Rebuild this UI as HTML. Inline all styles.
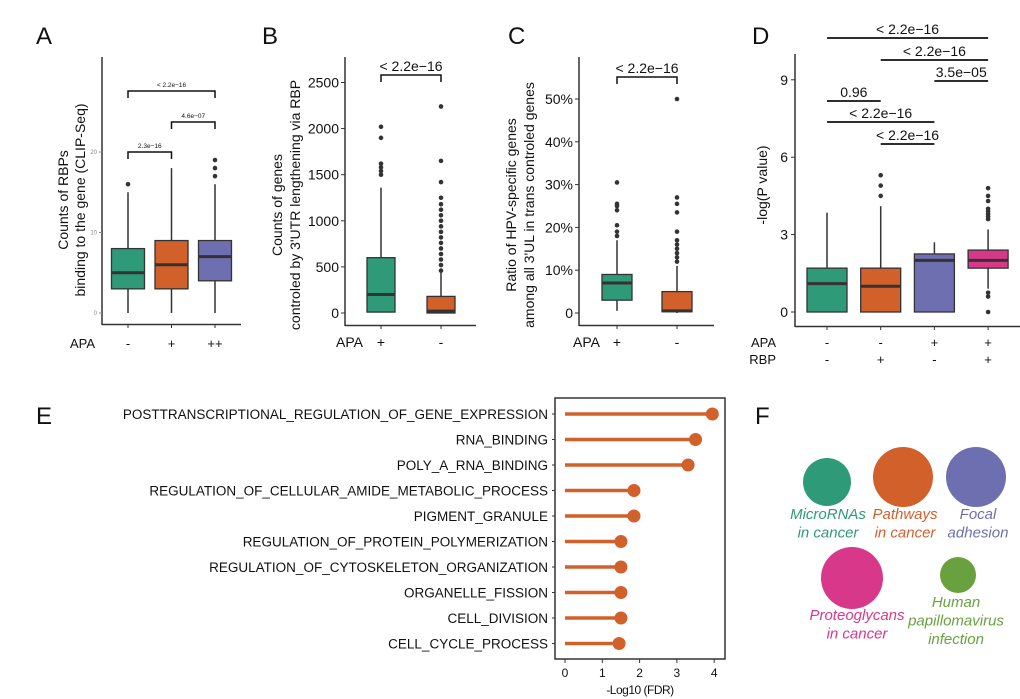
<!DOCTYPE html>
<html><head><meta charset="utf-8"><style>
body{margin:0;background:#fff;}
svg{display:block;font-family:"Liberation Sans",sans-serif;}
</style></head><body>
<svg id="fig" width="1020" height="699" viewBox="0 0 1020 699" xmlns="http://www.w3.org/2000/svg"></svg>
<script>
const NS="http://www.w3.org/2000/svg";
const svg=document.getElementById('fig');
const GREEN="#2e9a78",ORANGE="#d2602a",PURPLE="#6e6fb0",PINK="#d8388a",LGREEN="#6aa13f",DK="#333";

// ---- data ----
const aCats=["-","+","++"];
const aStats=[[0,3,5,8,15],[0,3,6,9,18],[0,4,7,9,16]];
const aOut=[[16],[],[17,18,19]];
const bCats=["+","-"];
const bStats=[[10,10,200,600,1360],[0,0,20,180,440]];
const bOut=[[1500,1540,1580,1620,1900,2020],[460,520,580,640,700,760,820,880,940,1000,1060,1120,1180,1250,1420,1650,2240]];
const cCats=["+","-"];
const cStats=[[0.5,3,7,9,17],[0,0.3,0.5,5,11]];
const cOut=[[18,19,20.5,24,25,25.5,30.5],[12,13,14,15,16,17,19,23.5,25.5,27,50]];
const dApa=["-","-","+","+"];
const dRbp=["-","+","-","+"];
const dStats=[[0,0,1.1,1.7,3.85],[0,0,1.0,1.7,4.1],[0,0,2.0,2.25,2.7],[0.9,1.7,2.0,2.4,3.2]];
const dOut=[[],[4.5,4.9,5.3],[],[0,0.6,0.75,3.6,3.7,3.8,3.9,4.0,4.3,4.5,4.8]];
const eTerms=["POSTTRANSCRIPTIONAL_REGULATION_OF_GENE_EXPRESSION","RNA_BINDING","POLY_A_RNA_BINDING","REGULATION_OF_CELLULAR_AMIDE_METABOLIC_PROCESS","PIGMENT_GRANULE","REGULATION_OF_PROTEIN_POLYMERIZATION","REGULATION_OF_CYTOSKELETON_ORGANIZATION","ORGANELLE_FISSION","CELL_DIVISION","CELL_CYCLE_PROCESS"];
const eVals=[3.95,3.5,3.3,1.85,1.85,1.5,1.5,1.5,1.5,1.45];
const eTicks=[0,1,2,3,4];

function el(tag,attrs,name,inter,parent){
  const e=document.createElementNS(NS,tag);
  for(const k in attrs)e.setAttribute(k,attrs[k]);
  
  
  (parent||svg).appendChild(e);return e;
}
function txt(x,y,s,size,name,extra){
  const a=Object.assign({x:x,y:y,'font-size':size,fill:'#111'},extra||{});
  const t=el('text',a,name,false);t.textContent=s;return t;
}
function line(x1,y1,x2,y2,name,w,c){return el('line',{x1:x1,y1:y1,x2:x2,y2:y2,stroke:c||DK,'stroke-width':w||1.5},name,false);}

function boxplot(xs,ys,stats,outs,colors,bw,name){
  stats.forEach((s,i)=>{
    const x=xs(i);
    line(x,ys(s[0]),x,ys(s[1]),name+'-whisker-low');
    line(x,ys(s[3]),x,ys(s[4]),name+'-whisker-high');
    el('rect',{x:x-bw/2,y:ys(s[3]),width:bw,height:Math.max(1,ys(s[1])-ys(s[3])),fill:colors[i],stroke:DK,'stroke-width':1.3},name+'-box-'+i,false);
    line(x-bw/2,ys(s[2]),x+bw/2,ys(s[2]),name+'-median-'+i,3);
    outs[i].forEach(o=>el('circle',{cx:x,cy:ys(o),r:2.3,fill:DK},name+'-outlier',false));
  });
}
function bracket(x1,x2,y,label,size,name){
  el('path',{d:`M${x1},${y+7}V${y}H${x2}V${y+7}`,fill:'none',stroke:'#111','stroke-width':1.5},name,false);
  txt((x1+x2)/2,y-4,label,size,name+'-label',{'text-anchor':'middle'});
}

// panel letters
[["A",36,44],["B",262,44],["C",508,44],["D",752,44],["E",36,424],["F",755,424]].forEach(p=>txt(p[1],p[2],p[0],24,'panel-label-'+p[0].toLowerCase()));

// ---- A ----
{const ys=v=>313-v*8.05, xs=i=>128+i*43.5;
line(102,57,102,325,'a-y-axis');line(102,324.5,241,324.5,'a-x-axis');
[0,10,20].forEach(t=>{line(99,ys(t),102,ys(t),'a-tick',1,'#888');txt(97,ys(t)+2,t,6,'a-tick-label',{'text-anchor':'end',fill:'#888'});});
boxplot(xs,ys,aStats,aOut,[GREEN,ORANGE,PURPLE],33,'a');
aCats.forEach((c,i)=>{line(xs(i),325,xs(i),328,'a-xtick',1);txt(xs(i),348,c,13,'a-cat-label',{'text-anchor':'middle'});});
txt(95,348,"APA",13,'a-apa-label',{'text-anchor':'end'});
bracket(xs(0),xs(1),152,"2.3e−16",6.5,'a-bracket-1');
bracket(xs(1),xs(2),122,"4.6e−07",6.5,'a-bracket-2');
bracket(xs(0),xs(2),91,"< 2.2e−16",6.5,'a-bracket-3');
txt(0,0,"Counts of RBPs",14,'a-y-title',{'text-anchor':'middle',transform:'translate(68,200) rotate(-90)'});
txt(0,0,"binding to the gene (CLIP-Seq)",14,'a-y-title-2',{'text-anchor':'middle',transform:'translate(85,200) rotate(-90)'});}

// ---- B ----
{const ys=v=>313-v*0.0922, xs=i=>381+i*60;
line(345,57,345,326,'b-y-axis');line(345,325.5,476,325.5,'b-x-axis');
[0,500,1000,1500,2000,2500].forEach(t=>{line(341,ys(t),345,ys(t),'b-tick',1);txt(339,ys(t)+5,t,14,'b-tick-label',{'text-anchor':'end'});});
boxplot(xs,ys,bStats,bOut,[GREEN,ORANGE],28,'b');
bCats.forEach((c,i)=>{line(xs(i),326,xs(i),329,'b-xtick',1);txt(xs(i),347,c,14,'b-cat-label',{'text-anchor':'middle'});});
txt(363,347,"APA",14,'b-apa-label',{'text-anchor':'end'});
bracket(xs(0),xs(1),75,"< 2.2e−16",14,'b-bracket');
txt(0,0,"Counts of genes",14,'b-y-title',{'text-anchor':'middle',transform:'translate(282,205) rotate(-90)'});
txt(0,0,"controled by 3'UTR lengthening via RBP",14,'b-y-title-2',{'text-anchor':'middle',transform:'translate(300,205) rotate(-90)'});}

// ---- C ----
{const ys=v=>313-v*4.28, xs=i=>617+i*60;
line(579,57,579,326,'c-y-axis');line(579,325.5,714,325.5,'c-x-axis');
[0,10,20,30,40,50].forEach(t=>{line(575,ys(t),579,ys(t),'c-tick',1);txt(573,ys(t)+5,t?t+'%':'0',14,'c-tick-label',{'text-anchor':'end'});});
boxplot(xs,ys,cStats,cOut,[GREEN,ORANGE],30,'c');
cCats.forEach((c,i)=>{line(xs(i),326,xs(i),329,'c-xtick',1);txt(xs(i),347,c,14,'c-cat-label',{'text-anchor':'middle'});});
txt(600,347,"APA",14,'c-apa-label',{'text-anchor':'end'});
bracket(xs(0),xs(1),77,"< 2.2e−16",14,'c-bracket');
txt(0,0,"Ratio of HPV-specific genes",14,'c-y-title',{'text-anchor':'middle',transform:'translate(516,205) rotate(-90)'});
txt(0,0,"among all 3'UL in trans controled genes",14,'c-y-title-2',{'text-anchor':'middle',transform:'translate(534,205) rotate(-90)'});}

// ---- D ----
{const ys=v=>312-v*25.8, xs=i=>827+i*53.7;
line(795,54,795,327,'d-y-axis');line(795,326.5,1020,326.5,'d-x-axis');
[0,3,6,9].forEach(t=>{line(791,ys(t),795,ys(t),'d-tick',1);txt(788,ys(t)+5,t,14,'d-tick-label',{'text-anchor':'end'});});
boxplot(xs,ys,dStats,dOut,[GREEN,ORANGE,PURPLE,PINK],40,'d');
dApa.forEach((c,i)=>{line(xs(i),327,xs(i),330,'d-xtick',1);txt(xs(i),347,c,13,'d-apa-cat',{'text-anchor':'middle'});txt(xs(i),364,dRbp[i],13,'d-rbp-cat',{'text-anchor':'middle'});});
txt(776,347,"APA",13,'d-apa-label',{'text-anchor':'end'});
txt(776,364,"RBP",13,'d-rbp-label',{'text-anchor':'end'});
[[0,3,38,"< 2.2e−16"],[1,3,60,"< 2.2e−16"],[2,3,81,"3.5e−05"],[0,1,101,"0.96"],[0,2,122,"< 2.2e−16"],[1,2,144,"< 2.2e−16"]].forEach((c,k)=>{
  line(xs(c[0]),c[2],xs(c[1]),c[2],'d-sig-line-'+k,1.8,'#111');
  txt((xs(c[0])+xs(c[1]))/2,c[2]-4,c[3],14,'d-sig-label-'+k,{'text-anchor':'middle'});
});
txt(0,0,"-log(P value)",14,'d-y-title',{'text-anchor':'middle',transform:'translate(767,185) rotate(-90)'});}

// ---- E ----
{const xs=v=>565+v*37.3, ys=i=>414+i*25.5;
el('rect',{x:555,y:398,width:170,height:261,fill:'none',stroke:DK,'stroke-width':1.5},'e-plot-frame',false);
eTicks.forEach(t=>{line(xs(t),659,xs(t),663,'e-tick',1);txt(xs(t),677,t,12,'e-tick-label',{'text-anchor':'middle'});});
txt(640,694,"-Log10 (FDR)",12,'e-x-title',{'text-anchor':'middle','letter-spacing':'-0.5'});
eTerms.forEach((t,i)=>{
  line(552,ys(i),555,ys(i),'e-ytick',1);
  txt(548,ys(i)+5,t,13.5,'e-term-label',{'text-anchor':'end'});
  line(xs(0),ys(i),xs(eVals[i]),ys(i),'e-lollipop-stem',3.5,ORANGE);
  el('circle',{cx:xs(eVals[i]),cy:ys(i),r:6.5,fill:ORANGE},'e-lollipop-dot',false);
});}

// ---- F ----
[[827,482,24,GREEN,["MicroRNAs","in cancer"],828,519,'microrna'],
 [903,477,30,ORANGE,["Pathways","in cancer"],905,519,'pathways'],
 [976,477,30,PURPLE,["Focal","adhesion"],978,519,'focal-adhesion'],
 [852,578,31,PINK,["Proteoglycans","in cancer"],857,620,'proteoglycans'],
 [958,575,18,LGREEN,["Human","papillomavirus","infection"],956,607,'hpv']].forEach(b=>{
  el('circle',{cx:b[0],cy:b[1],r:b[2],fill:b[3]},'f-bubble-'+b[7],false);
  b[4].forEach((s,k)=>txt(b[5],b[6]+k*18.5,s,15,'f-label-'+b[7],{'text-anchor':'middle',fill:b[3],'font-style':'italic'}));
});
</script>
</body></html>
